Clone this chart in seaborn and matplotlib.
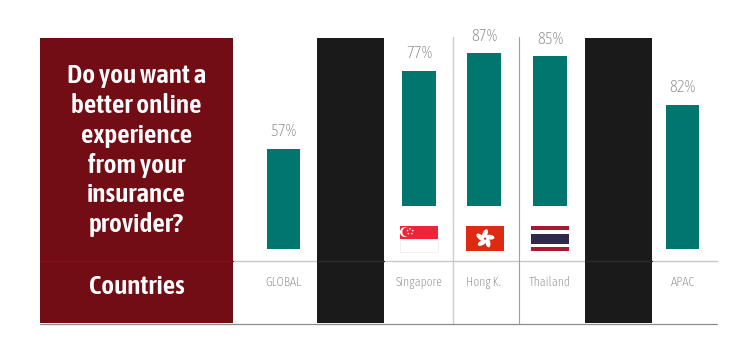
import pandas as pd
import numpy as np
import matplotlib
matplotlib.use('Agg')
import matplotlib.pyplot as plt
from matplotlib.patches import Rectangle, Circle, Ellipse
import seaborn as sb

# data
countries = ['GLOBAL', 'Singapore', 'Hong K.', 'Thailand', 'APAC']
values = [57, 77, 87, 85, 82]
title_lines = ['Do you want a', 'better online', 'experience', 'from your', 'insurance', 'provider?']
row_label = 'Countries'

# layout, all in pixels of the 752x364 picture
W, H = 752, 364
col_x = [283.5, 419, 484, 550, 682.5]
lifted = [0, 24.4, 24.4, 24.4, 0]      # the three countries with flags sit higher
RED = '#730d15'
BLACK = '#1a1a1a'
TEAL = '#00766f'
GREY = '#8f8f8f'

sb.set_style('white')
plt.rcParams['font.family'] = ['Asap Condensed', 'Liberation Sans', 'DejaVu Sans']

fig = plt.figure(figsize=(W / 100, H / 100), dpi=100)

# background layer in pixel coordinates
bg = fig.add_axes([0, 0, 1, 1], zorder=1)
bg.set_xlim(0, W)
bg.set_ylim(H, 0)
bg.axis('off')

bg.add_patch(Rectangle((40, 38), 193, 285, color=RED, lw=0, zorder=2))
bg.plot([233, 717], [261, 261], color='#c8c8c8', lw=1, zorder=1)
bg.add_patch(Rectangle((317, 38), 67, 285, color=BLACK, lw=0, zorder=2))
bg.add_patch(Rectangle((585, 38), 67, 285, color=BLACK, lw=0, zorder=2))
bg.plot([317, 384], [261, 261], color='#2a2a2a', lw=1, zorder=3)
bg.plot([585, 652], [261, 261], color='#2a2a2a', lw=1, zorder=3)
bg.plot([453, 453], [37, 323], color='#cccccc', lw=1, zorder=1)
bg.plot([518.5, 518.5], [37, 323], color='#a0a0a0', lw=0.8, zorder=1)
bg.plot([40, 233], [261, 261], color='#85111b', lw=1, zorder=3)
bg.plot([40, 717], [323.5, 323.5], color='#8c8c8c', lw=0.9, zorder=3)

for i, line in enumerate(title_lines):
    bg.text(136.5, 76 + i * 29.7, line, color='white', fontsize=19.6, fontweight='semibold',
            ha='center', va='center', zorder=4)
bg.text(136.5, 286, row_label, color='white', fontsize=19.6, fontweight='semibold',
        ha='center', va='center', zorder=4)

# Singapore flag
bg.add_patch(Rectangle((400, 226), 38, 12.5, color='#ee2536', lw=0))
bg.add_patch(Rectangle((400, 238.5), 38, 13, fc='white', ec='#eeeeee', lw=0.6))
bg.add_patch(Circle((405, 232), 5, color='white', lw=0))
bg.add_patch(Circle((407, 232), 4.7, color='#ee2536', lw=0))
for sx, sy in [(410, 228.8), (412.8, 230.6), (411.9, 233.6), (408.3, 233.6), (407.5, 230.6)]:
    bg.add_patch(Circle((sx, sy), 0.8, color='white', lw=0))

# Hong Kong flag
bg.add_patch(Rectangle((466, 226), 38, 25.3, color='#de2a10', lw=0))
for ang in [-90, -18, 54, 126, 198]:
    a = np.radians(ang)
    bg.add_patch(Ellipse((485 + 5 * np.cos(a), 238.7 + 5 * np.sin(a)), 9.4, 4.8,
                         angle=ang + 25, color='white', lw=0))

# Thailand flag
bg.add_patch(Rectangle((531, 226), 38, 4, color='#a51931', lw=0))
bg.add_patch(Rectangle((531, 234), 38, 9.6, color='#2d2a4a', lw=0))
bg.add_patch(Rectangle((531, 247.3), 38, 4, color='#a51931', lw=0))

# bars
df = pd.DataFrame({'country': countries, 'value': values, 'x': col_x})
ax = fig.add_axes([233 / W, 1 - 261 / H, (717 - 233) / W, (261 - 38) / H], zorder=2)
ax.patch.set_alpha(0)
sb.barplot(data=df, x='x', y='value', native_scale=True, width=0.52, color=TEAL,
           saturation=1, bottom=lifted, ax=ax, linewidth=0, errorbar=None)
ax.set_xlim(233, 717)
ax.set_ylim(-6.8, 119.9)
ax.set_xlabel('')
ax.set_ylabel('')
ax.set_yticks([])
ax.set_xticks(col_x)
ax.set_xticklabels(countries, fontsize=9.2, color=GREY, fontweight='light')
ax.tick_params(axis='x', length=0, pad=11)
for s in ['top', 'left', 'right', 'bottom']:
    ax.spines[s].set_visible(False)

ax.bar_label(ax.containers[0], labels=[f'{v}%' for v in values], padding=6,
             fontsize=12, color=GREY, fontweight='light')

fig.savefig('out.png', dpi=100)
